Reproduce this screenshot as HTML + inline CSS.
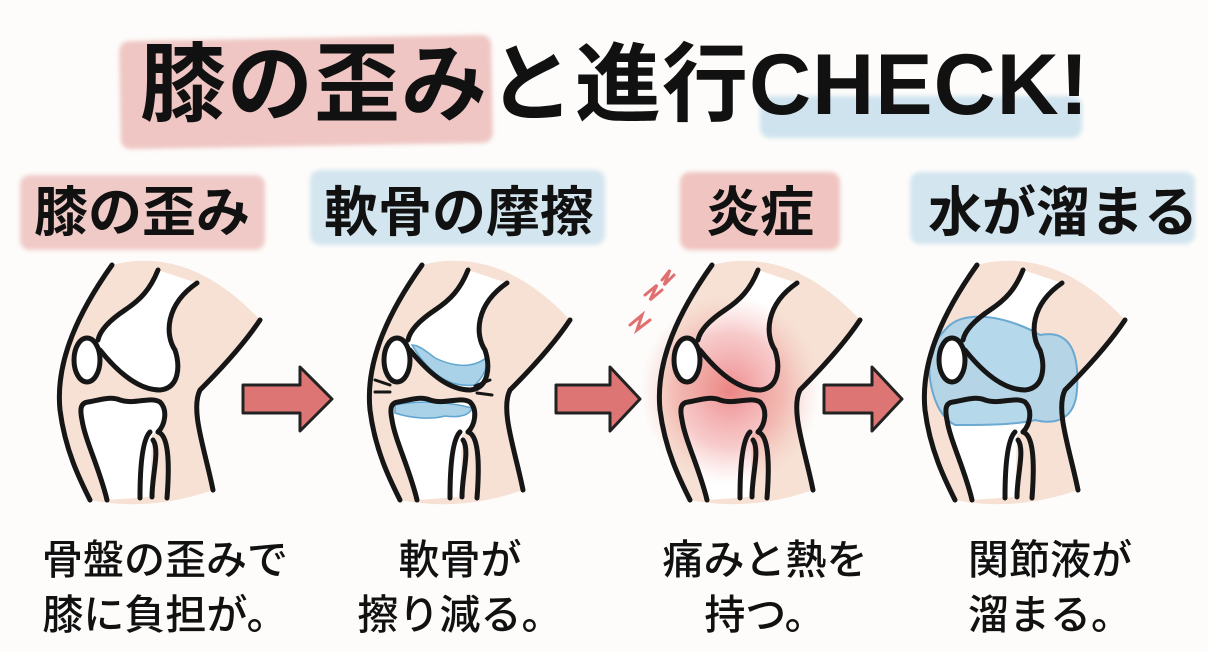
<!DOCTYPE html>
<html><head><meta charset="utf-8">
<style>
html,body{margin:0;padding:0;background:#fdfcfa;}
body{width:1208px;height:652px;position:relative;overflow:hidden;font-family:"Liberation Sans","Noto Sans CJK JP",sans-serif;color:#111;}
.t{position:absolute;white-space:nowrap;font-weight:700;line-height:1;}
.bg{position:absolute;border-radius:10px;filter:blur(2px);}
.cap{position:absolute;font-size:41px;font-weight:500;text-align:center;line-height:55px;white-space:nowrap;}
</style></head><body>
<div class="bg" style="left:120px;top:38px;width:372px;height:108px;background:#efc6c3;transform:rotate(-1deg)"></div>
<div class="bg" style="left:760px;top:96px;width:322px;height:42px;background:#cfe3ee;"></div>
<div class="t" style="left:140px;top:42px;font-size:86px;letter-spacing:1px;">膝の歪みと進行CHECK!</div>

<div class="bg" style="left:20px;top:175px;width:245px;height:75px;background:#f0cac7"></div>
<div class="bg" style="left:310px;top:170px;width:295px;height:75px;background:#d3e5ef"></div>
<div class="bg" style="left:680px;top:172px;width:160px;height:78px;background:#f0c4c1"></div>
<div class="bg" style="left:910px;top:172px;width:285px;height:72px;background:#d3e5ef"></div>
<div class="t" style="left:34px;top:186px;font-size:54px;">膝の歪み</div>
<div class="t" style="left:324px;top:186px;font-size:54px;">軟骨の摩擦</div>
<div class="t" style="left:706px;top:186px;font-size:54px;">炎症</div>
<div class="t" style="left:928px;top:186px;font-size:54px;">水が溜まる</div>

<svg width="1208" height="652" style="position:absolute;left:0;top:0">
<defs>
<radialGradient id="red" cx="0.5" cy="0.5" r="0.5"><stop offset="0" stop-color="#e8676a" stop-opacity="0.75"/><stop offset="0.6" stop-color="#ee8a8a" stop-opacity="0.45"/><stop offset="1" stop-color="#f4b0ae" stop-opacity="0"/></radialGradient>
<g id="knee">
<path d="M72,15 Q150,-5 220,70 L160,140 C150,160 165,200 173,240 Q110,262 50,250 C40,230 25,200 20,160 C15,110 40,60 72,15Z" fill="#f6e1d4"/>
<path d="M118,20 C110,40 100,50 85,60 C70,70 60,80 58,95 C80,125 100,140 120,140 C140,138 140,115 135,100 C125,85 125,55 157,33Z" fill="#fff"/>
<path d="M40,155 C60,150 75,148 95,152 C115,150 123,148 123,160 C125,175 120,180 112,185 L110,247 L67,250 C60,220 50,190 40,165Z" fill="#fff"/>
</g>
<g id="lines" fill="none" stroke="#161616" stroke-width="5" stroke-linecap="round" stroke-linejoin="round">
<path d="M72,15 C40,60 15,110 20,160 C25,200 40,230 50,250"/>
<path d="M118,20 C110,40 100,50 85,60 C70,70 60,80 58,90"/>
<ellipse cx="47" cy="110" rx="13" ry="22" fill="#fff"/>
<path d="M60,100 C80,125 100,140 120,140 C140,138 140,115 135,100 C125,85 125,55 157,33"/>
<path d="M220,70 C200,100 170,130 160,140 C150,160 165,200 173,240"/>
<path d="M67,250 C60,220 45,190 42,170 C40,160 40,153 48,152 C60,150 70,146 80,150 C95,155 110,146 120,152 C128,160 125,175 118,182"/>
<path d="M110,182 C102,190 100,220 100,248 M113,190 C120,200 112,225 112,247 M118,182 C128,185 130,210 127,248"/>
</g>
</defs>
<g transform="translate(40,250)"><use href="#knee"/><use href="#lines"/></g>
<g transform="translate(350,250)"><use href="#knee"/>
<path d="M62,95 C80,125 100,138 125,135 C135,125 138,115 136,108 C120,120 100,115 85,108 C75,100 68,95 62,95Z" fill="#a9d1e8" stroke="#5fa5d0" stroke-width="1.5"/>
<path d="M45,155 C70,150 100,152 122,158 C120,165 110,168 95,166 C80,170 60,168 45,163Z" fill="#a9d1e8" stroke="#5fa5d0" stroke-width="1.5"/>
<use href="#lines"/>
<path d="M25,130 L40,135 M25,142 L40,142 M140,130 L125,136 M142,145 L127,143" stroke="#161616" stroke-width="3" stroke-linecap="round"/>
</g>
<g transform="translate(640,250)"><use href="#knee"/>
<ellipse cx="90" cy="140" rx="90" ry="95" fill="url(#red)"/>
<use href="#lines"/>
<path d="M-10,75 L2,65 L-3,80 L10,70 M5,45 L17,35 L10,50 L22,40 M22,30 L30,20 L24,35 L34,25" fill="none" stroke="#e07070" stroke-width="3" stroke-linecap="round"/>
</g>
<g transform="translate(905,250)"><use href="#knee"/>
<path d="M40,80 C60,55 110,70 135,85 C160,80 175,95 172,140 C170,170 150,175 130,170 C110,175 80,175 50,175 C30,165 22,130 25,110 C28,95 32,88 40,80Z" fill="#a9d1e8" fill-opacity="0.85" stroke="#6aa9d2" stroke-width="2"/>
<use href="#lines"/>
</g>
<g fill="#de7575" stroke="#222" stroke-width="3" stroke-linejoin="round">
<path d="M243,385 L300,385 L300,367 L332,399 L300,431 L300,413 L243,413Z"/>
<path d="M556,385 L610,385 L610,367 L640,399 L610,431 L610,413 L556,413Z"/>
<path d="M824,385 L872,385 L872,367 L902,399 L872,431 L872,413 L824,413Z"/>
</g>
</svg>

<div class="cap" style="left:30px;top:533px;width:270px;">骨盤の歪みで<br>膝に負担が。</div>
<div class="cap" style="left:355px;top:533px;width:210px;">軟骨が<br>擦り減る。</div>
<div class="cap" style="left:660px;top:533px;width:210px;">痛みと熱を<br>持つ。</div>
<div class="cap" style="left:945px;top:533px;width:210px;">関節液が<br>溜まる。</div>
</body></html>
